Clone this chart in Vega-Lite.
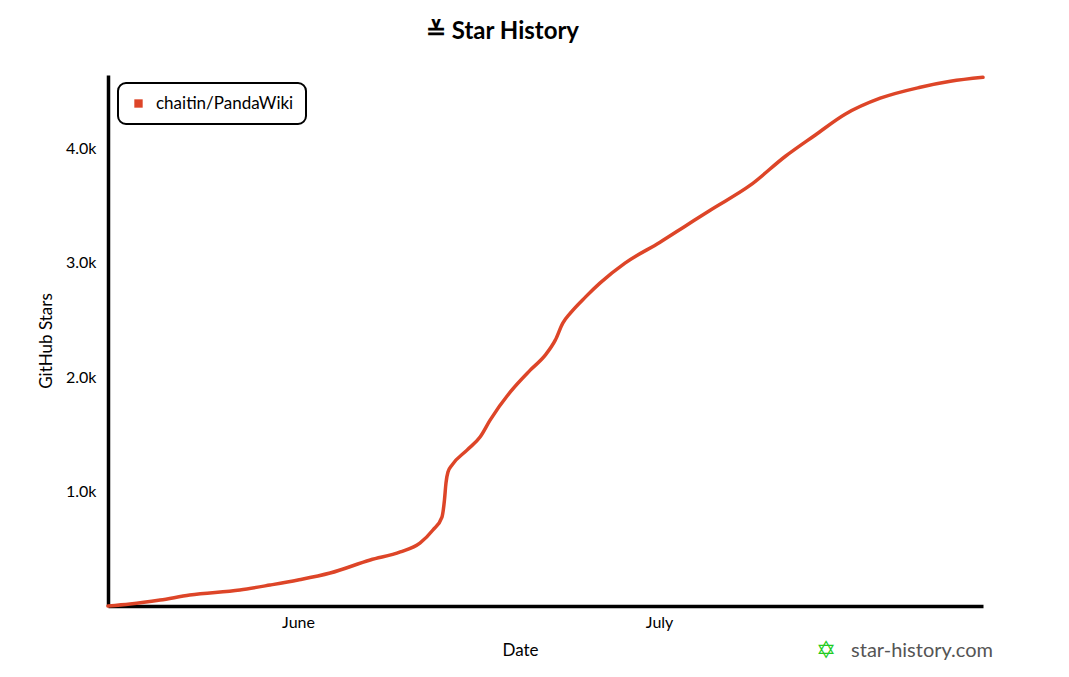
{
  "$schema": "https://vega.github.io/schema/vega-lite/v6.json",
  "autosize": "none",
  "width": 875,
  "height": 531,
  "padding": {"left": 108, "top": 75, "right": 86, "bottom": 71},
  "background": "white",
  "config": {
    "font": "Lato",
    "view": {"stroke": null}
  },
  "title": {
    "text": "≚ Star History",
    "fontSize": 24,
    "fontWeight": "bold",
    "font": "Lato",
    "color": "black",
    "anchor": "middle",
    "dx": -43,
    "offset": 26
  },
  "data": {
    "values": [
      {"date": "2025-05-16T05:00", "stars": 0, "repo": "chaitin/PandaWiki"},
      {"date": "2025-05-18T01:00", "stars": 17, "repo": "chaitin/PandaWiki"},
      {"date": "2025-05-20T13:00", "stars": 52, "repo": "chaitin/PandaWiki"},
      {"date": "2025-05-23T00:00", "stars": 96, "repo": "chaitin/PandaWiki"},
      {"date": "2025-05-27T04:00", "stars": 140, "repo": "chaitin/PandaWiki"},
      {"date": "2025-05-29T16:00", "stars": 183, "repo": "chaitin/PandaWiki"},
      {"date": "2025-06-01T00:00", "stars": 227, "repo": "chaitin/PandaWiki"},
      {"date": "2025-06-03T16:00", "stars": 288, "repo": "chaitin/PandaWiki"},
      {"date": "2025-06-07T00:00", "stars": 402, "repo": "chaitin/PandaWiki"},
      {"date": "2025-06-09T12:00", "stars": 472, "repo": "chaitin/PandaWiki"},
      {"date": "2025-06-11T03:00", "stars": 550, "repo": "chaitin/PandaWiki"},
      {"date": "2025-06-12T05:00", "stars": 664, "repo": "chaitin/PandaWiki"},
      {"date": "2025-06-12T23:00", "stars": 777, "repo": "chaitin/PandaWiki"},
      {"date": "2025-06-13T04:00", "stars": 926, "repo": "chaitin/PandaWiki"},
      {"date": "2025-06-13T07:00", "stars": 1074, "repo": "chaitin/PandaWiki"},
      {"date": "2025-06-13T11:00", "stars": 1170, "repo": "chaitin/PandaWiki"},
      {"date": "2025-06-13T19:00", "stars": 1231, "repo": "chaitin/PandaWiki"},
      {"date": "2025-06-15T01:00", "stars": 1362, "repo": "chaitin/PandaWiki"},
      {"date": "2025-06-16T03:00", "stars": 1476, "repo": "chaitin/PandaWiki"},
      {"date": "2025-06-16T23:00", "stars": 1624, "repo": "chaitin/PandaWiki"},
      {"date": "2025-06-18T15:00", "stars": 1869, "repo": "chaitin/PandaWiki"},
      {"date": "2025-06-20T07:00", "stars": 2061, "repo": "chaitin/PandaWiki"},
      {"date": "2025-06-21T13:00", "stars": 2192, "repo": "chaitin/PandaWiki"},
      {"date": "2025-06-22T09:00", "stars": 2323, "repo": "chaitin/PandaWiki"},
      {"date": "2025-06-23T00:00", "stars": 2472, "repo": "chaitin/PandaWiki"},
      {"date": "2025-06-23T15:00", "stars": 2559, "repo": "chaitin/PandaWiki"},
      {"date": "2025-06-24T21:00", "stars": 2699, "repo": "chaitin/PandaWiki"},
      {"date": "2025-06-26T02:00", "stars": 2821, "repo": "chaitin/PandaWiki"},
      {"date": "2025-06-28T04:00", "stars": 2996, "repo": "chaitin/PandaWiki"},
      {"date": "2025-07-01T02:00", "stars": 3179, "repo": "chaitin/PandaWiki"},
      {"date": "2025-07-03T04:00", "stars": 3319, "repo": "chaitin/PandaWiki"},
      {"date": "2025-07-05T06:00", "stars": 3459, "repo": "chaitin/PandaWiki"},
      {"date": "2025-07-08T14:00", "stars": 3677, "repo": "chaitin/PandaWiki"},
      {"date": "2025-07-11T12:00", "stars": 3930, "repo": "chaitin/PandaWiki"},
      {"date": "2025-07-13T23:00", "stars": 4114, "repo": "chaitin/PandaWiki"},
      {"date": "2025-07-16T11:00", "stars": 4297, "repo": "chaitin/PandaWiki"},
      {"date": "2025-07-19T09:00", "stars": 4437, "repo": "chaitin/PandaWiki"},
      {"date": "2025-07-22T17:00", "stars": 4533, "repo": "chaitin/PandaWiki"},
      {"date": "2025-07-25T05:00", "stars": 4585, "repo": "chaitin/PandaWiki"},
      {"date": "2025-07-27T22:00", "stars": 4620, "repo": "chaitin/PandaWiki"}
    ]
  },
  "layer": [
    {
      "mark": {"type": "line", "interpolate": "monotone", "strokeWidth": 3.5, "strokeCap": "round", "clip": false},
      "encoding": {
        "x": {
          "field": "date",
          "type": "temporal",
          "scale": {"domain": [{"year": 2025, "month": 5, "date": 16, "hours": 5}, {"year": 2025, "month": 7, "date": 27, "hours": 22}], "nice": false},
          "axis": {
            "title": "Date",
            "titleFontSize": 17,
            "titleFontWeight": "normal",
            "titleColor": "black",
            "titleX": 412,
            "titleY": 36,
            "values": [{"year": 2025, "month": 6, "date": 1}, {"year": 2025, "month": 7, "date": 1}],
            "format": "%B",
            "labelFontSize": 16,
            "labelColor": "black",
            "labelPadding": 8,
            "ticks": false,
            "grid": false,
            "domainColor": "black",
            "domainWidth": 3.5
          }
        },
        "y": {
          "field": "stars",
          "type": "quantitative",
          "scale": {"domain": [0, 4640], "nice": false},
          "axis": {
            "title": "GitHub Stars",
            "titleFontSize": 17,
            "titleFontWeight": "normal",
            "titleColor": "black",
            "titlePadding": 10,
            "values": [1000, 2000, 3000, 4000],
            "format": ".2s",
            "labelFontSize": 16,
            "labelColor": "black",
            "labelPadding": 12,
            "ticks": false,
            "grid": false,
            "domainColor": "black",
            "domainWidth": 3.5
          }
        },
        "color": {
          "field": "repo",
          "type": "nominal",
          "scale": {"range": ["#dd4528"]},
          "legend": {
            "title": null,
            "orient": "none",
            "legendX": 10,
            "legendY": 8,
            "strokeColor": "black",
            "cornerRadius": 8,
            "padding": 12,
            "symbolType": "square",
            "symbolSize": 70,
            "symbolStrokeWidth": 0,
            "symbolFillColor": "#dd4528",
            "symbolOpacity": 1,
            "labelOffset": 9,
            "labelFontSize": 17,
            "labelColor": "black",
            "labelLimit": 300,
            "fillColor": "white",
            "encode": {
              "legend": {"update": {"strokeWidth": {"value": 2}}},
              "symbols": {"update": {"fill": {"value": "#dd4528"}, "strokeWidth": {"value": 0}}}
            }
          }
        }
      }
    },
    {
      "data": {"values": [{"site": "star-history.com"}]},
      "mark": {"type": "text", "align": "right", "baseline": "middle", "fontSize": 20, "color": "#555555", "dx": 10, "clip": false},
      "encoding": {
        "x": {"datum": {"year": 2025, "month": 7, "date": 27, "hours": 22}, "type": "temporal"},
        "y": {"datum": -393},
        "text": {"field": "site"}
      }
    },
    {
      "data": {"values": [{"icon": "✡"}]},
      "mark": {"type": "text", "align": "center", "baseline": "middle", "fontSize": 24, "color": "#22cc22", "dx": -157, "font": "DejaVu Sans", "clip": false},
      "encoding": {
        "x": {"datum": {"year": 2025, "month": 7, "date": 27, "hours": 22}, "type": "temporal"},
        "y": {"datum": -393},
        "text": {"field": "icon"}
      }
    }
  ]
}
